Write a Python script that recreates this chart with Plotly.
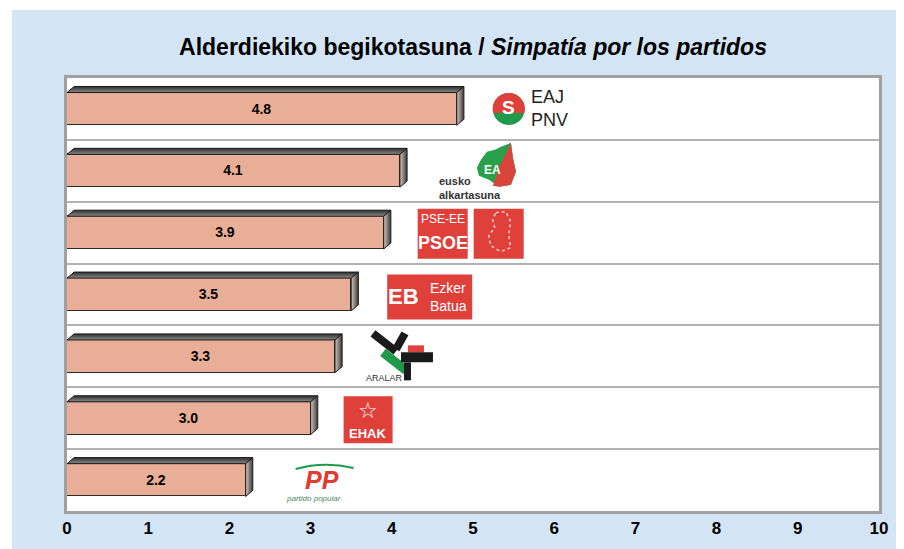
import math
import plotly.graph_objects as go

# ---------------- data ----------------
parties = ["EAJ-PNV", "EA", "PSE-EE/PSOE", "EB", "Aralar", "EHAK", "PP"]
values = [4.8, 4.1, 3.9, 3.5, 3.3, 3.0, 2.2]
x_tick_vals = [0, 1, 2, 3, 4, 5, 6, 7, 8, 9, 10]
x_tick_text = ["0", "1", "2", "3", "4", "5", "6", "7", "8", "9", "10"]
title_main = "Alderdiekiko begikotasuna / "
title_es = "Simpatía por los partidos"

# ---------------- styles ----------------
BAR_FILL = "#E8AE98"
BAR_EDGE = "#2b2b2b"
BLUE_BG = "#D3E5F4"
FRAME = "#A0A0A0"
GRID = "#B2B2B2"
RED = "#E0403A"
GREEN = "#1E9A4A"
FONT = "Liberation Sans, Arial, sans-serif"

BAR_W = 0.53          # bar thickness in category units
DX = 0.088            # 3D depth along x (data units)
DY = 0.098            # 3D depth along y (category units)

ypos = list(range(len(parties)))

fig = go.Figure()

# front faces
fig.add_trace(go.Bar(
    x=values, y=ypos, orientation="h", width=BAR_W,
    marker=dict(color=BAR_FILL, line=dict(color=BAR_EDGE, width=1)),
    texttemplate="<b>%{x:.1f}</b>", textposition="inside",
    insidetextanchor="middle", textangle=0,
    textfont=dict(family=FONT, size=14, color="black"),
    hoverinfo="skip", showlegend=False,
))

# 3D top and side faces derived from the values
h = BAR_W / 2
for v, y in zip(values, ypos):
    fig.add_trace(go.Scatter(
        x=[0, v, v + DX, DX, 0],
        y=[y - h, y - h, y - h - DY, y - h - DY, y - h],
        mode="lines", fill="toself",
        fillgradient=dict(type="vertical",
                          colorscale=[[0, "#8a8a8a"], [1, "#2e2e2e"]]),
        line=dict(color="#1a1a1a", width=1),
        hoverinfo="skip", showlegend=False,
    ))
    fig.add_trace(go.Scatter(
        x=[v, v + DX, v + DX, v, v],
        y=[y - h, y - h - DY, y + h - DY, y + h, y - h],
        mode="lines", fill="toself",
        fillgradient=dict(type="horizontal",
                          colorscale=[[0, "#d6c6bf"], [1, "#3a3a3a"]]),
        line=dict(color="#1a1a1a", width=1),
        hoverinfo="skip", showlegend=False,
    ))

shapes = []
annotations = []

# background panels
shapes.append(dict(type="rect", xref="paper", yref="paper", layer="below",
                   x0=-0.0677, x1=1.05, y0=-0.12, y1=1.157,
                   fillcolor=BLUE_BG, line=dict(width=0)))
shapes.append(dict(type="rect", xref="paper", yref="paper", layer="below",
                   x0=0, x1=1, y0=0, y1=1,
                   fillcolor="white", line=dict(width=0)))


def prect(xa, ya, x0, x1, y0, y1, color):
    return dict(type="rect", xref="x", yref="y", xsizemode="pixel",
                ysizemode="pixel", xanchor=xa, yanchor=ya,
                x0=x0, x1=x1, y0=y0, y1=y1, fillcolor=color,
                line=dict(width=0))


def ppath(xa, ya, pts, color, lw=0, lc=None, dash="solid", fill=True):
    d = "M " + " L ".join(f"{px:.1f},{py:.1f}" for px, py in pts) + " Z"
    s = dict(type="path", xref="x", yref="y", xsizemode="pixel",
             ysizemode="pixel", xanchor=xa, yanchor=ya, path=d,
             line=dict(width=lw, color=lc or color, dash=dash))
    if fill:
        s["fillcolor"] = color
    return s


def pline(xa, ya, x0, y0, x1, y1, color, w):
    return dict(type="line", xref="x", yref="y", xsizemode="pixel",
                ysizemode="pixel", xanchor=xa, yanchor=ya,
                x0=x0, y0=y0, x1=x1, y1=y1, line=dict(color=color, width=w))


def ptext(xa, ya, dx, dy, text, size, color, anchor="center", family=FONT):
    return dict(x=xa, y=ya, xref="x", yref="y", xshift=dx, yshift=dy,
                text=text, showarrow=False, xanchor=anchor, yanchor="middle",
                align=anchor if anchor in ("left", "right") else "center",
                borderpad=0,
                font=dict(family=family, size=size, color=color))


# ---- logos (decorations placed just after each bar end) ----
# EAJ-PNV
v, y = values[0], ypos[0]
cx, cy, r = 52, 0, 16
full = [(cx + r * math.cos(2 * math.pi * k / 48), cy + r * math.sin(2 * math.pi * k / 48)) for k in range(48)]
top = [(cx + r * math.cos(math.pi * (k - 2) / 24), cy + r * math.sin(math.pi * (k - 2) / 24)) for k in range(29)]
shapes.append(ppath(v, y, full, GREEN))
shapes.append(ppath(v, y, top, RED))
annotations.append(ptext(v, y, cx, cy + 1, "<b>S</b>", 19, "white"))
annotations.append(ptext(v, y, 73, 0, "EAJ<br>PNV", 18, "#222", anchor="left"))

# Eusko Alkartasuna
v, y = values[1], ypos[1]
leaf = [(81, 11), (87, 19), (95, 21), (101, 24), (111, 28), (113, 13), (116, -1),
        (111, -14), (99, -16), (89, -9), (79, -5), (77, 3)]
leaf_red = [(111, 28), (113, 13), (116, -1), (111, -14), (99, -16), (93, -15), (100, 5)]
shapes.append(ppath(v, y, leaf, "#2AA04A"))
shapes.append(ppath(v, y, leaf_red, "#D8453C"))
annotations.append(ptext(v, y, 93, 1, "<b>EA</b>", 12, "white"))
annotations.append(ptext(v, y, 38, -17, "<b>eusko<br>alkartasuna</b>", 11, "#333", anchor="left"))

# PSE-EE / PSOE
v, y = values[2], ypos[2]
shapes.append(prect(v, y, 34, 84, -26, 24, RED))
shapes.append(prect(v, y, 90, 140, -26, 24, RED))
annotations.append(ptext(v, y, 59, 14, "PSE-EE", 12, "white"))
annotations.append(ptext(v, y, 59, -10, "<b>PSOE</b>", 18, "white"))
mapo = [(112, 20), (122, 21), (127, 11), (125, -2), (127, -15), (117, -19),
        (107, -13), (105, -3), (111, 5), (109, 13)]
shapes.append(ppath(v, y, mapo, "white", lw=1.5, lc="#f6d0c8", dash="dot", fill=False))

# Ezker Batua
v, y = values[3], ypos[3]
shapes.append(prect(v, y, 36, 121, -25, 20, RED))
annotations.append(ptext(v, y, 52, -2, "<b>EB</b>", 22, "white"))
annotations.append(ptext(v, y, 97, 7, "Ezker", 14, "white"))
annotations.append(ptext(v, y, 97, -11, "Batua", 14, "white"))

# Aralar
v, y = values[4], ypos[4]
shapes.append(pline(v, y, 38, 23, 61, 5, "#1a1a1a", 8))
shapes.append(pline(v, y, 70, 23, 61, 7, "#1a1a1a", 8))
shapes.append(prect(v, y, 73, 89, 4, 11, RED))
shapes.append(pline(v, y, 48, 4, 71, -14, GREEN, 9))
shapes.append(prect(v, y, 66, 98, -6, 4, "#1a1a1a"))
shapes.append(prect(v, y, 69, 76, -24, -6, "#1a1a1a"))
annotations.append(ptext(v, y, 50, -22, "ARALAR", 9, "#333"))

# EHAK
v, y = values[5], ypos[5]
shapes.append(prect(v, y, 33, 82, -25, 22, RED))
annotations.append(ptext(v, y, 57, 8, "☆", 22, "white"))
annotations.append(ptext(v, y, 57, -15, "<b>EHAK</b>", 13, "white"))

# PP
v, y = values[6], ypos[6]
shapes.append(dict(type="path", xref="x", yref="y", xsizemode="pixel",
                   ysizemode="pixel", xanchor=v, yanchor=y,
                   path="M 50,11 Q 78,19 108,12",
                   line=dict(color=GREEN, width=2)))
annotations.append(ptext(v, y, 76, 0, "<b><i>PP</i></b>", 25, "#E03A32"))
annotations.append(ptext(v, y, 68, -18, "<i>partido popular</i>", 8, "#4a8a60"))

fig.update_layout(
    width=904, height=549,
    margin=dict(l=59, r=33, t=70, b=46),
    paper_bgcolor="white", plot_bgcolor="white",
    showlegend=False,
    bargap=0,
    title=dict(
        text=f"<b>{title_main}<i>{title_es}</i></b>",
        x=0.5, xref="paper", xanchor="center",
        y=1 - 39 / 549, yref="container", yanchor="middle",
        font=dict(family=FONT, size=23, color="black"),
    ),
    xaxis=dict(
        range=[0, 10], tickvals=x_tick_vals, ticktext=x_tick_text,
        showgrid=False, zeroline=False, ticks="",
        tickfont=dict(family=FONT, size=17, color="black", weight="bold"),
        showline=True, mirror=True, linecolor=FRAME, linewidth=2.5,
        fixedrange=True,
    ),
    yaxis=dict(
        range=[6.5, -0.5], tickvals=[0.5, 1.5, 2.5, 3.5, 4.5, 5.5],
        showticklabels=False, ticks="",
        showgrid=True, gridcolor=GRID, gridwidth=2, zeroline=False,
        showline=True, mirror=True, linecolor=FRAME, linewidth=2.5,
        fixedrange=True,
    ),
    shapes=shapes,
    annotations=annotations,
)

fig.write_html("out.html")
